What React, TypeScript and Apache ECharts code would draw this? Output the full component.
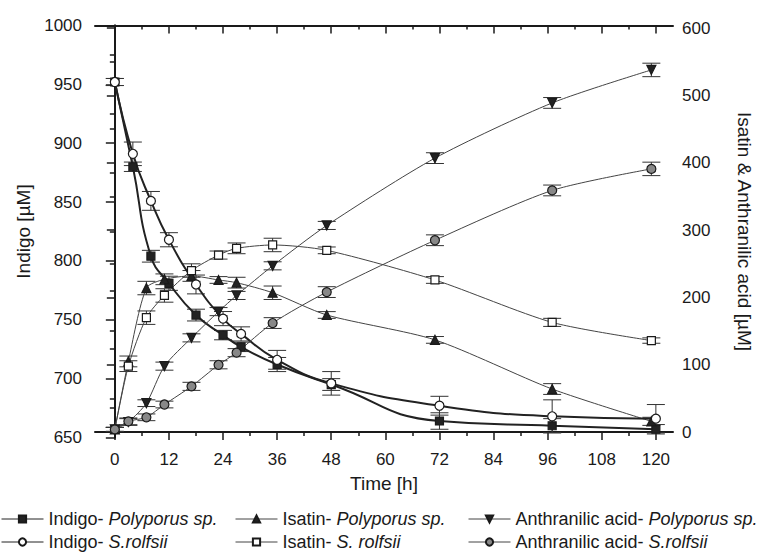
import React, { useEffect, useRef } from "react";
import * as echarts from "echarts";

// sampling times [h]
const T_INDIGO = [0, 4, 8, 12, 18, 24, 28, 36, 48, 72, 97, 120];
const T_PRODUCT = [0, 3, 7, 11, 17, 23, 27, 35, 47, 71, 97, 119];

// Indigo [µM] (left axis)
const INDIGO_POLY = [952, 880, 804, 781, 754, 737, 727, 712, 695, 664, 660, 657];
const INDIGO_POLY_ERR = [3, 4, 5, 6, 5, 4, 4, 6, 5, 7, 6, 4];
const INDIGO_SROL = [952, 891, 851, 818, 780, 751, 738, 716, 696, 677, 668, 666];
const INDIGO_SROL_ERR = [3, 10, 8, 6, 8, 6, 6, 8, 10, 8, 14, 12];

// Isatin & Anthranilic acid [µM] (right axis)
const ISATIN_POLY = [4, 105, 214, 227, 232, 226, 222, 207, 174, 137, 64, 16];
const ISATIN_POLY_ERR = [3, 8, 10, 8, 8, 5, 8, 10, 5, 5, 8, 6];
const ISATIN_SROL = [4, 98, 170, 203, 240, 263, 273, 278, 270, 226, 163, 136];
const ISATIN_SROL_ERR = [3, 8, 10, 10, 10, 6, 8, 10, 5, 5, 6, 4];
const ANTHR_POLY = [4, 15, 43, 98, 140, 179, 203, 247, 307, 407, 489, 538];
const ANTHR_POLY_ERR = [3, 5, 5, 6, 6, 6, 6, 6, 6, 8, 8, 10];
const ANTHR_SROL = [4, 16, 22, 41, 68, 100, 118, 162, 208, 285, 359, 391];
const ANTHR_SROL_ERR = [3, 5, 5, 5, 6, 6, 6, 8, 8, 8, 8, 10];

// axis ticks
const X_MAJOR = [0, 12, 24, 36, 48, 60, 72, 84, 96, 108, 120];
const X_MINOR = [6, 18, 30, 42, 54, 66, 78, 90, 102, 114];
const R_MAJOR = [0, 100, 200, 300, 400, 500, 600];
const R_MINOR = [50, 150, 250, 350, 450, 550];

const NAMES = [
  "Indigo- Polyporus sp.",
  "Isatin- Polyporus sp.",
  "Anthranilic acid- Polyporus sp.",
  "Indigo- S.rolfsii",
  "Isatin- S. rolfsii",
  "Anthranilic acid- S.rolfsii",
];

const FONT = "'Liberation Sans', Arial, sans-serif";
const INK = "#1a1a1a";

export default function App() {
  const ref = useRef<HTMLDivElement>(null);

  useEffect(() => {
    document.body.style.margin = "0";
    const chart = echarts.init(ref.current!, null, { renderer: "svg" });

    const pairs = (ts: number[], vs: number[]) => ts.map((t, i) => [t, vs[i]]);

    const errSeries = (ts: number[], vs: number[], es: number[], yAxisIndex: number) => ({
      type: "custom",
      xAxisIndex: 0,
      yAxisIndex,
      silent: true,
      z: 1,
      data: ts.map((t, i) => [t, vs[i] - es[i], vs[i] + es[i]]),
      encode: { x: 0, y: [1, 2] },
      renderItem: (_p: any, api: any) => {
        const x = api.value(0);
        const lo = api.coord([x, api.value(1)]);
        const hi = api.coord([x, api.value(2)]);
        const w = 9;
        const style = { stroke: "#333", lineWidth: 1 };
        return {
          type: "group",
          children: [
            { type: "line", shape: { x1: lo[0], y1: lo[1], x2: hi[0], y2: hi[1] }, style },
            { type: "line", shape: { x1: lo[0] - w, y1: lo[1], x2: lo[0] + w, y2: lo[1] }, style },
            { type: "line", shape: { x1: hi[0] - w, y1: hi[1], x2: hi[0] + w, y2: hi[1] }, style },
          ],
        };
      },
    });

    const lineSeries = (
      name: string,
      ts: number[],
      vs: number[],
      yAxisIndex: number,
      symbol: string,
      fill: string,
      width: number,
      symbolSize: number,
      rotate = 0
    ) => ({
      type: "line",
      name,
      xAxisIndex: 0,
      yAxisIndex,
      data: pairs(ts, vs),
      smooth: width > 1 ? 0.5 : 0.25,
      symbol,
      symbolSize,
      symbolRotate: rotate,
      showAllSymbol: true,
      z: 3,
      lineStyle: { color: width > 1 ? "#222" : "#444", width },
      itemStyle: { color: fill, borderColor: INK, borderWidth: 1.2 },
    });

    const legendTextStyle = {
      fontFamily: FONT,
      fontSize: 18,
      color: INK,
      rich: {
        n: { fontFamily: FONT, fontSize: 18, color: INK },
        i: { fontFamily: FONT, fontSize: 18, color: INK, fontStyle: "italic" },
      },
    };
    const legendFmt = (name: string) => {
      const k = name.indexOf("- ");
      return `{n|${name.slice(0, k + 2)}}{i|${name.slice(k + 2)}}`;
    };
    const legendPos = [
      [1, 510],
      [235, 510],
      [468, 510],
      [1, 533],
      [235, 533],
      [468, 533],
    ];

    const tickLine = { color: INK, width: 1.5 };
    const labelStyle = { fontFamily: FONT, fontSize: 17, color: INK };
    const plain = (v: number) => String(v);
    const xMin = -4.4;
    const xMax = 123.8;

    const option: any = {
      animation: false,
      backgroundColor: "#fff",
      grid: { left: 95, right: 91, top: 25.5, bottom: 115.5, containLabel: false },
      legend: NAMES.map((n, i) => ({
        data: [n],
        left: legendPos[i][0],
        top: legendPos[i][1],
        itemWidth: 42,
        itemHeight: 9,
        itemGap: 0,
        padding: 0,
        formatter: legendFmt,
        textStyle: legendTextStyle,
        lineStyle: { width: 1 },
        selectedMode: false,
      })),
      xAxis: [
        {
          type: "value",
          position: "bottom",
          min: xMin,
          max: xMax,
          name: "Time [h]",
          nameLocation: "middle",
          nameGap: 36,
          nameTextStyle: { fontFamily: FONT, fontSize: 19, color: INK },
          axisLine: { show: true, lineStyle: { color: INK, width: 2 } },
          axisTick: { show: true, inside: false, length: 8, customValues: X_MAJOR, lineStyle: tickLine },
          axisLabel: { show: true, margin: 13, customValues: X_MAJOR, formatter: plain, ...labelStyle },
          splitLine: { show: false },
        },
        {
          type: "value",
          position: "bottom",
          min: xMin,
          max: xMax,
          axisLine: { show: false },
          axisTick: { show: true, inside: false, length: 4, customValues: X_MINOR, lineStyle: tickLine },
          axisLabel: { show: false },
          splitLine: { show: false },
        },
        {
          type: "value",
          position: "top",
          min: xMin,
          max: xMax,
          axisLine: { show: true, lineStyle: { color: INK, width: 2 } },
          axisTick: { show: true, inside: true, length: 8, customValues: X_MAJOR, lineStyle: tickLine },
          axisLabel: { show: false },
          splitLine: { show: false },
        },
        {
          type: "value",
          position: "top",
          min: xMin,
          max: xMax,
          axisLine: { show: false },
          axisTick: { show: true, inside: true, length: 4, customValues: X_MINOR, lineStyle: tickLine },
          axisLabel: { show: false },
          splitLine: { show: false },
        },
      ],
      yAxis: [
        {
          type: "value",
          position: "left",
          min: 650,
          max: 1000,
          interval: 50,
          name: "Indigo [µM]",
          nameLocation: "middle",
          nameGap: 60,
          nameTextStyle: { fontFamily: FONT, fontSize: 19, color: INK },
          axisLine: { show: true, lineStyle: { color: INK, width: 2 } },
          axisTick: { show: true, inside: false, length: 9, lineStyle: tickLine },
          minorTick: { show: true, splitNumber: 2, length: 5, lineStyle: tickLine },
          axisLabel: { show: true, margin: 13, formatter: plain, ...labelStyle },
          splitLine: { show: false },
          minorSplitLine: { show: false },
        },
        {
          type: "value",
          position: "right",
          min: -8,
          max: 604,
          name: "Isatin & Anthranilic acid [µM]",
          nameLocation: "middle",
          nameRotate: -90,
          nameGap: 62,
          nameTextStyle: { fontFamily: FONT, fontSize: 19, color: INK },
          axisLine: { show: true, lineStyle: { color: INK, width: 2 } },
          axisTick: { show: true, inside: true, length: 8, customValues: R_MAJOR, lineStyle: tickLine },
          axisLabel: { show: true, margin: 9, customValues: R_MAJOR, formatter: plain, ...labelStyle },
          splitLine: { show: false },
        },
        {
          type: "value",
          position: "right",
          min: -8,
          max: 604,
          axisLine: { show: false },
          axisTick: { show: true, inside: true, length: 5, customValues: R_MINOR, lineStyle: tickLine },
          axisLabel: { show: false },
          splitLine: { show: false },
        },
      ],
      series: [
        errSeries(T_INDIGO, INDIGO_POLY, INDIGO_POLY_ERR, 0),
        errSeries(T_INDIGO, INDIGO_SROL, INDIGO_SROL_ERR, 0),
        errSeries(T_PRODUCT, ISATIN_POLY, ISATIN_POLY_ERR, 1),
        errSeries(T_PRODUCT, ISATIN_SROL, ISATIN_SROL_ERR, 1),
        errSeries(T_PRODUCT, ANTHR_POLY, ANTHR_POLY_ERR, 1),
        errSeries(T_PRODUCT, ANTHR_SROL, ANTHR_SROL_ERR, 1),
        lineSeries(NAMES[0], T_INDIGO, INDIGO_POLY, 0, "rect", "#222", 2, 8),
        lineSeries(NAMES[1], T_PRODUCT, ISATIN_POLY, 1, "triangle", "#222", 1, 9),
        lineSeries(NAMES[2], T_PRODUCT, ANTHR_POLY, 1, "triangle", "#222", 1, 9, 180),
        lineSeries(NAMES[3], T_INDIGO, INDIGO_SROL, 0, "circle", "#fff", 2, 9),
        lineSeries(NAMES[4], T_PRODUCT, ISATIN_SROL, 1, "rect", "#fff", 1, 8),
        lineSeries(NAMES[5], T_PRODUCT, ANTHR_SROL, 1, "circle", "#888", 1, 9),
      ],
    };

    chart.setOption(option);
    return () => chart.dispose();
  }, []);

  return <div ref={ref} style={{ width: 764, height: 553 }} />;
}
